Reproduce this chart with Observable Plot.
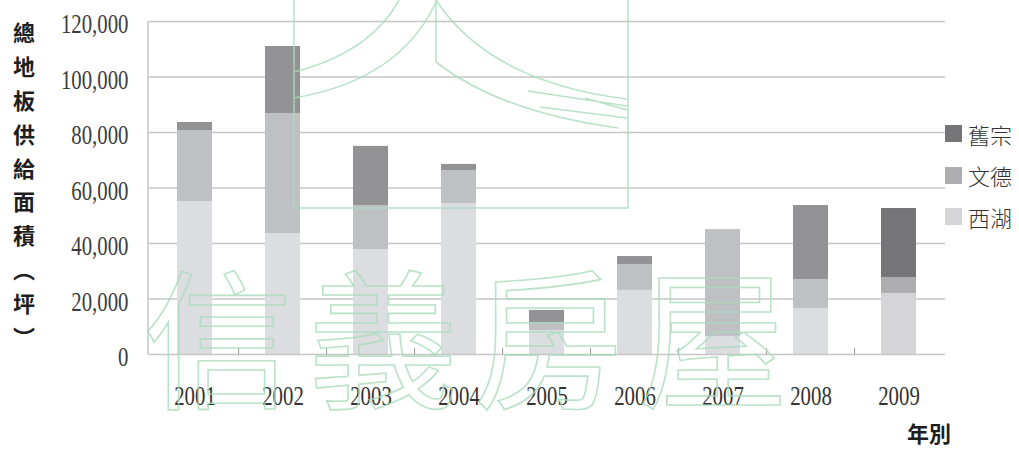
<!DOCTYPE html>
<html>
<head>
<meta charset="utf-8">
<script src="https://cdn.jsdelivr.net/npm/d3@7"></script>
<script src="https://cdn.jsdelivr.net/npm/@observablehq/plot@0.6"></script>
<style>
  html, body { margin: 0; padding: 0; background: #fff; }
  #wrap { position: relative; width: 1019px; height: 449px; overflow: hidden; }
  #ytitle { position: absolute; left: 12px; top: 15px; width: 24px;
    font-family: "Noto Sans CJK TC", sans-serif; font-weight: 700; font-size: 22px;
    color: #1e1e1e; text-align: center; }
  #ytitle span { display: block; height: 33.9px; line-height: 33.9px; }
  #xtitle { position: absolute; left: 907px; top: 420px; line-height: 24px;
    font-family: "Noto Sans CJK TC", sans-serif; font-weight: 700; font-size: 22px; color: #1e1e1e; }
  #legend { position: absolute; left: 945px; top: 113px;
    font-family: "Noto Sans CJK TC", sans-serif; font-weight: 300; font-size: 22px; color: #333; }
  #legend .item { display: flex; align-items: center; height: 41.5px; }
  #legend .sw { width: 17px; height: 17px; margin-right: 6px; }
  #mark { position: absolute; left: 0; top: 0; pointer-events: none; }
</style>
</head>
<body>
<div id="wrap">
  <div id="chart"></div>
  <div id="ytitle"></div>
  <div id="xtitle">年別</div>
  <div id="legend"></div>
</div>
<script>
// Floor area supplied per year (坪), by district
const years = [2001, 2002, 2003, 2004, 2005, 2006, 2007, 2008, 2009];
const xihu    = [55100, 43600, 37800, 54400, 8600, 23100, 6500, 16600, 22000];
const wende   = [25600, 43200, 15900, 11900, 2900, 9300, 38500, 10400, 5700];
const jiuzong = [2900, 24200, 21300, 2200, 4400, 2900, 0, 26700, 24900];
const seriesNames = ["西湖", "文德", "舊宗"];
const legendOrder = ["舊宗", "文德", "西湖"];
const yTicks = [0, 20000, 40000, 60000, 80000, 100000, 120000];
const yTitleChars = ["總", "地", "板", "供", "給", "面", "積", "︵", "坪", "︶"];
const highlightYear = 2009;

const baseColors = {"西湖": "#dcdde0", "文德": "#bfc0c3", "舊宗": "#939395"};
const highlightColors = {"西湖": "#d5d5d7", "文德": "#adadb0", "舊宗": "#757578"};

const seriesValues = {"西湖": xihu, "文德": wende, "舊宗": jiuzong};
const rows = [];
seriesNames.forEach(s => years.forEach((y, i) => rows.push({year: y, series: s, value: seriesValues[s][i]})));

const gridColor = "#c6c6c6";

const chart = Plot.plot({
  width: 1019,
  height: 449,
  marginLeft: 148,
  marginRight: 74,
  marginTop: 21,
  marginBottom: 95,
  style: {fontFamily: "Liberation Serif", background: "transparent"},
  x: {domain: years, paddingInner: 0.6, paddingOuter: 0.3},
  y: {domain: [0, 120000]},
  color: {type: "identity"},
  marks: [
    Plot.ruleY(yTicks.slice(1), {stroke: gridColor, strokeWidth: 1.5}),
    Plot.barY(rows, {
      x: "year", y: "value", z: "series", order: seriesNames,
      fill: d => (d.year === highlightYear ? highlightColors : baseColors)[d.series]
    }),
    Plot.ruleY([0], {stroke: gridColor, strokeWidth: 1.5}),
    Plot.axisY({ticks: yTicks, tickSize: 0, tickPadding: 20, tickFormat: d3.format(","),
      fontSize: 27, fontFamily: "Liberation Serif", fill: "#3c3c3c", dy: 3, label: null}),
    Plot.axisX({tickSize: 0, tickPadding: 31, tickFormat: d => String(d), fontSize: 27,
      fontFamily: "Liberation Serif", fill: "#333", label: null})
  ]
});
document.getElementById("chart").appendChild(chart);

// left axis line and band separators along the baseline
const xs = chart.scale("x"), ys = chart.scale("y");
const svg = d3.select(chart);
const x0 = xs.range[0], y0 = ys.apply(0), yTop = ys.apply(120000);
const deco = svg.append("g").attr("stroke", gridColor).attr("stroke-width", 1.5);
deco.append("line").attr("x1", x0).attr("x2", x0).attr("y1", yTop).attr("y2", y0);
const gap = xs.step * 0.3;
years.slice(1).forEach(y => {
  const bx = xs.apply(y) - gap;
  deco.append("line").attr("x1", bx).attr("x2", bx).attr("y1", y0 - 6).attr("y2", y0).attr("stroke", "#999").attr("stroke-width", 1);
});

// narrow the serif tick labels
svg.selectAll("g[aria-label$='tick label'] text").each(function() {
  const w = this.getComputedTextLength();
  this.setAttribute("lengthAdjust", "spacingAndGlyphs");
  this.setAttribute("textLength", (w * 0.77).toFixed(1));
});

// vertical axis title
const yt = document.getElementById("ytitle");
yTitleChars.forEach(c => { const s = document.createElement("span"); s.textContent = c; yt.appendChild(s); });

// legend
const lg = document.getElementById("legend");
legendOrder.forEach(s => {
  const item = document.createElement("div"); item.className = "item";
  const sw = document.createElement("div"); sw.className = "sw"; sw.style.background = highlightColors[s];
  const t = document.createElement("span"); t.textContent = s;
  item.appendChild(sw); item.appendChild(t); lg.appendChild(item);
});

// company watermark
const wm = d3.select("#wrap").append("svg").attr("id", "mark").attr("width", 1019).attr("height", 449)
  .attr("fill", "none").attr("stroke", "#a9dcbc").attr("stroke-width", 1.6).attr("opacity", 0.8);
wm.append("rect").attr("x", 294).attr("y", -10).attr("width", 334).attr("height", 218);
wm.append("path").attr("d", "M400,-2 Q372,52 294,72");
wm.append("path").attr("d", "M436,2 Q400,80 294,98");
wm.append("path").attr("d", "M436,0 L436,62");
wm.append("path").attr("d", "M436,0 Q490,82 627,99");
wm.append("path").attr("d", "M436,62 Q500,112 618,128");
wm.append("path").attr("d", "M528,91 L627,106 M585,98 L627,110 M540,107 L627,118");
wm.append("text").attr("x", 143).attr("y", 397).attr("font-size", 150).attr("letter-spacing", 15)
  .attr("font-family", "Noto Sans CJK TC").attr("font-weight", 400).text("信義房屋");
</script>
</body>
</html>
